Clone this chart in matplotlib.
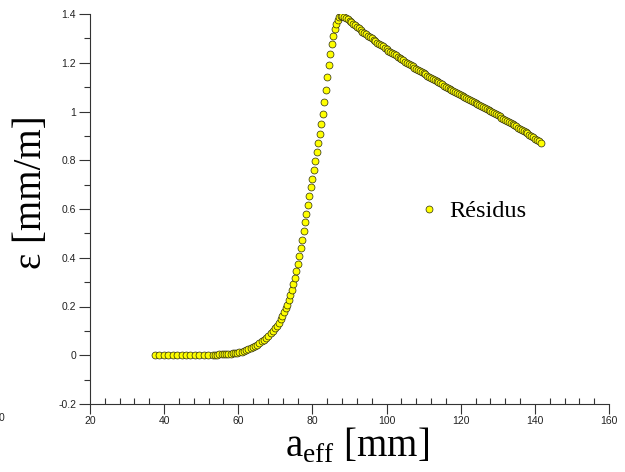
import numpy as np
import matplotlib
matplotlib.use("Agg")
import matplotlib.pyplot as plt
from matplotlib.ticker import MultipleLocator

# %% data (a_eff in mm, strain in mm/m)
x_flat = [37.5, 38.7, 39.9, 41.1, 42.3, 43.5, 44.7, 45.9, 47.1, 48.3,
          49.5, 50.7, 51.9, 53.1]
y_flat = [0.0] * len(x_flat)

x_rise = [53.7, 54.3, 54.9, 55.5, 56.1, 56.7, 57.3, 57.9, 58.5, 59.1,
          59.7, 60.3, 60.9, 61.5, 62.1, 62.7, 63.3, 63.9, 64.5, 65.1,
          65.7, 66.3, 66.9, 67.5, 68.1, 68.7, 69.3, 69.9, 70.4, 70.9,
          71.4, 71.9, 72.4, 72.8, 73.2, 73.6, 74.0, 74.4, 74.8, 75.2,
          75.6, 76.0, 76.4, 76.8, 77.2, 77.6, 78.0, 78.4, 78.8, 79.2,
          79.6, 80.0, 80.4, 80.8, 81.2, 81.6, 82.0, 82.4, 82.8, 83.2,
          83.6, 84.0, 84.4, 84.8, 85.2, 85.6, 86.0, 86.4, 86.8, 87.2,
          87.6, 88.0, 88.5]
y_rise = [0.003, 0.003, 0.004, 0.004, 0.005, 0.005, 0.006, 0.007, 0.008, 0.009,
          0.010, 0.012, 0.014, 0.017, 0.020, 0.024, 0.028, 0.033, 0.038, 0.044,
          0.050, 0.057, 0.064, 0.072, 0.080, 0.090, 0.100, 0.111, 0.122, 0.134,
          0.147, 0.161, 0.177, 0.192, 0.208, 0.226, 0.246, 0.268, 0.292, 0.318,
          0.346, 0.376, 0.407, 0.440, 0.474, 0.509, 0.545, 0.581, 0.617, 0.653,
          0.689, 0.725, 0.761, 0.797, 0.833, 0.870, 0.908, 0.947, 0.990, 1.040,
          1.090, 1.140, 1.190, 1.235, 1.275, 1.310, 1.338, 1.360, 1.376, 1.386,
          1.391, 1.391, 1.388]

x_fall = [89, 89.5, 90, 90.5, 91, 91.5, 92, 92.5, 93, 93.5, 94, 94.5, 95,
          95.5, 96, 96.5, 97, 97.5, 98, 98.5, 99, 99.5, 100, 100.5, 101,
          101.5, 102, 102.5, 103, 103.5, 104, 104.5, 105, 105.5, 106, 106.5,
          107, 107.5, 108, 108.5, 109, 109.5, 110, 110.5, 111, 111.5, 112,
          112.5, 113, 113.5, 114, 114.5, 115, 115.5, 116, 116.5, 117, 117.5,
          118, 118.5, 119, 119.5, 120, 120.5, 121, 121.5, 122, 122.5, 123,
          123.5, 124, 124.5, 125, 125.5, 126, 126.5, 127, 127.5, 128, 128.5,
          129, 129.5, 130, 130.5, 131, 131.5, 132, 132.5, 133, 133.5, 134,
          134.5, 135, 135.5, 136, 136.5, 137, 137.5, 138, 138.5, 139, 139.5,
          140, 140.5, 141, 141.6]
y_fall = [1.383, 1.378, 1.372, 1.366, 1.360, 1.354, 1.347, 1.341, 1.335, 1.328,
          1.322, 1.316, 1.311, 1.305, 1.300, 1.294, 1.289, 1.283, 1.278, 1.272,
          1.267, 1.261, 1.256, 1.250, 1.245, 1.240, 1.235, 1.230, 1.225, 1.220,
          1.215, 1.210, 1.205, 1.200, 1.195, 1.190, 1.185, 1.180, 1.175, 1.170,
          1.166, 1.161, 1.157, 1.152, 1.147, 1.142, 1.138, 1.133, 1.129, 1.124,
          1.120, 1.115, 1.111, 1.106, 1.102, 1.097, 1.093, 1.089, 1.085, 1.080,
          1.076, 1.071, 1.067, 1.063, 1.059, 1.054, 1.050, 1.046, 1.042, 1.038,
          1.034, 1.029, 1.025, 1.021, 1.017, 1.013, 1.009, 1.005, 1.001, 0.997,
          0.993, 0.988, 0.984, 0.980, 0.975, 0.970, 0.966, 0.961, 0.957, 0.952,
          0.948, 0.943, 0.939, 0.934, 0.930, 0.925, 0.921, 0.916, 0.911, 0.905,
          0.900, 0.894, 0.889, 0.883, 0.877, 0.870]

a_eff = np.array(x_flat + x_rise + x_fall)
eps = np.array(y_flat + y_rise + y_fall)

# %% figure
plt.rcParams['mathtext.fontset'] = 'custom'
plt.rcParams['mathtext.rm'] = 'Liberation Serif'

axc = '#333333'
fig = plt.figure(figsize=(6.25, 4.72), dpi=100)
ax = fig.add_axes([90 / 625, 1 - 404 / 472, 519 / 625, 390 / 472])

ax.plot(a_eff, eps, ls='none', marker='o', ms=5, mfc='#ffff00',
        mec='#2a2a10', mew=0.5, label='Résidus')

ax.set_xlim(20, 160)
ax.set_ylim(-0.2, 1.4)
ax.xaxis.set_major_locator(MultipleLocator(20))
ax.xaxis.set_minor_locator(MultipleLocator(4))
ax.yaxis.set_major_locator(MultipleLocator(0.2))
ax.yaxis.set_minor_locator(MultipleLocator(0.1))
ax.xaxis.set_major_formatter(plt.FuncFormatter(lambda v, p: '%g' % v))
ax.yaxis.set_major_formatter(plt.FuncFormatter(
    lambda v, p: '0' if abs(v) < 1e-9 else '%g' % round(v, 1)))

for s in ['top', 'right']:
    ax.spines[s].set_visible(False)
for s in ['left', 'bottom']:
    ax.spines[s].set_color(axc)
    ax.spines[s].set_linewidth(0.8)

ax.tick_params(axis='x', which='major', direction='out', length=7,
               width=0.8, color=axc, pad=2)
ax.tick_params(axis='x', which='minor', direction='in', length=4,
               width=0.8, color=axc)
ax.tick_params(axis='y', which='major', direction='out', length=8,
               width=0.8, color=axc, pad=2)
ax.tick_params(axis='y', which='minor', direction='out', length=4,
               width=0.8, color=axc)
for lab in ax.get_xticklabels() + ax.get_yticklabels():
    lab.set_fontfamily('Liberation Sans')
    lab.set_fontsize(7.5)
    lab.set_color('#222222')

# stray "0" tick label at the far left edge
fig.text(0.003, 1 - 418 / 472, '0', ha='center', va='center',
         family='Liberation Sans', fontsize=7.5, color='#222222')

fig.text(357 / 625, 1 - 446 / 472, r'a$_{\mathrm{eff}}$ [mm]',
         ha='center', va='center', family='Liberation Serif', fontsize=28)
fig.text(31 / 625, 1 - 192 / 472, 'ε [mm/m]', rotation=90,
         ha='center', va='center', family='Liberation Serif', fontsize=28)

ax.legend(loc='center left', bbox_to_anchor=(419 / 625, 1 - 211 / 472),
          bbox_transform=fig.transFigure, frameon=False, handlelength=0.8,
          handletextpad=0.45, borderaxespad=0, borderpad=0,
          prop={'family': 'Liberation Serif', 'size': 17.5})

fig.savefig('out.png', dpi=100)
